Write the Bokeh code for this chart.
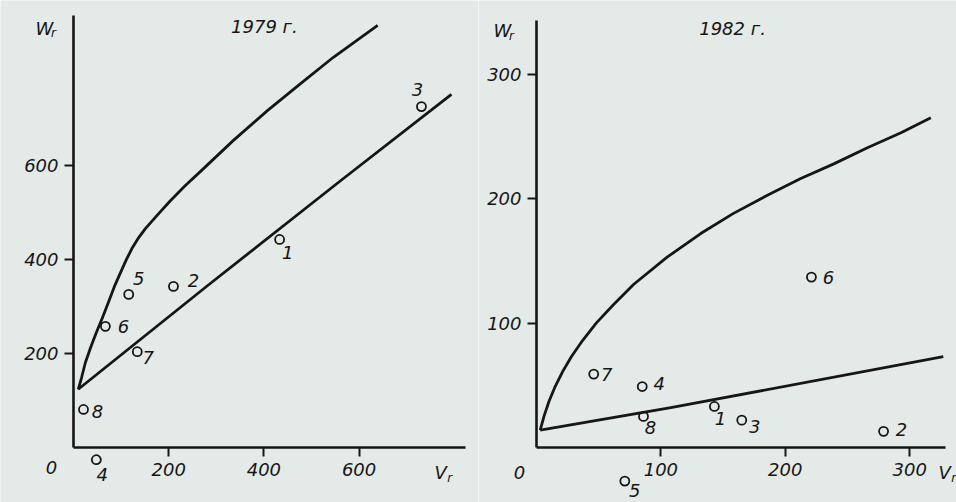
from bokeh.plotting import figure
from bokeh.layouts import row
from bokeh.models import LinearAxis, FixedTicker, Label, ColumnDataSource, Range1d
from bokeh.core.properties import value
from bokeh.embed import file_html
from bokeh.resources import INLINE

# ---------------- data: 1979 ----------------
point_names = ["1", "2", "3", "4", "5", "6", "7", "8"]
v_1979 = [433, 210, 731, 48, 116, 67, 134, 21]
w_1979 = [443, 343, 726, -26, 326, 258, 204, 81]
upper_v_1979 = [10, 17, 25, 36, 48, 61, 74, 86, 99, 111, 124, 137, 151, 164, 177, 204, 235, 267, 336, 408, 477, 546, 639]
upper_w_1979 = [124, 149, 181, 213, 245, 277, 311, 343, 373, 400, 426, 447, 466, 481, 496, 526, 558, 588, 654, 718, 775, 831, 899]
lower_v_1979 = [10, 282, 561, 794]
lower_w_1979 = [124, 345, 568, 752]
ticks_1979 = [200, 400, 600]

# ---------------- data: 1982 ----------------
v_1982 = [143, 279, 165, 85, 71, 221, 46, 86]
w_1982 = [33, 13, 22, 49, -27, 137, 59, 25]
upper_v_1982 = [3, 6, 10, 15, 21, 28, 37, 48, 62, 78, 105, 132, 158, 186, 212, 239, 266, 293, 317]
upper_w_1982 = [14, 25, 37, 49, 61, 73, 86, 100, 115, 131, 153, 172, 188, 203, 216, 228, 241, 253, 265]
lower_v_1982 = [3, 108, 327]
lower_w_1982 = [14, 32, 73]
ticks_1982 = [100, 200, 300]

# ---------------- styling / layout ----------------
BG = "#e4eae7"
INK = "#161616"
FONT = "DejaVu Sans"

# label offsets in screen px (right, down)
dx_1979 = [8, 20, -4, 6, 10, 18, 11, 14]
dy_1979 = [13, -6, -17, 15, -16, 0, 6, 2]
dx_1982 = [6, 18, 13, 17, 10, 17, 13, 7]
dy_1982 = [12, -2, 6, -3, 9, 0, 0, 11]


def panel(width, page_left, origin_x, origin_y, sx, sy, vx, wy, names, dxs, dys,
          up_v, up_w, lo_v, lo_w, ticks, x_bound, y_bound, title, title_xy,
          w_off, r_off, V_off, Vr_off, zero_off):
    height = 502
    page_top = 0
    x0 = -(origin_x - page_left) / sx
    x1 = (page_left + width - origin_x) / sx
    y1 = (origin_y - page_top) / sy
    y0 = -(page_top + height - origin_y) / sy
    p = figure(width=width, height=height, x_range=Range1d(x0, x1), y_range=Range1d(y0, y1),
               x_axis_type=None, y_axis_type=None, toolbar_location=None,
               output_backend="svg", min_border=0)
    p.background_fill_color = BG
    p.border_fill_color = BG
    p.outline_line_color = None

    for side, bound in (("below", x_bound), ("left", y_bound)):
        ax = LinearAxis(fixed_location=0, bounds=(0, bound),
                        ticker=FixedTicker(ticks=ticks))
        ax.axis_line_color = INK
        ax.axis_line_width = 2.6
        ax.major_tick_line_color = INK
        ax.major_tick_line_width = 2
        ax.major_tick_in = 0
        ax.major_tick_out = 9
        ax.minor_tick_line_color = None
        ax.major_label_text_font = FONT
        ax.major_label_text_font_style = "italic"
        ax.major_label_text_font_size = "18px"
        ax.major_label_text_color = INK
        ax.major_label_standoff = 6
        p.add_layout(ax, side)

    p.line(up_v, up_w, line_color=INK, line_width=2.8, line_join="round")
    p.line(lo_v, lo_w, line_color=INK, line_width=2.8, line_join="round")

    src = ColumnDataSource(dict(v=vx, w=wy, name=names, dx=dxs, dy=dys))
    p.scatter("v", "w", source=src, marker="circle", size=9, fill_color=None,
              line_color=INK, line_width=1.8)
    p.text("v", "w", text="name", source=src, x_offset="dx", y_offset="dy",
           text_font=value(FONT), text_font_style="italic", text_font_size="18px",
           text_color=INK, text_align="center", text_baseline="middle")

    def lab(x, y, text, off, size="18px"):
        p.add_layout(Label(x=x, y=y, text=text, x_offset=off[0], y_offset=-off[1],
                           text_font=FONT, text_font_style="italic",
                           text_font_size=size, text_color=INK,
                           text_align="center", text_baseline="middle"))

    lab(title_xy[0], title_xy[1], title, (0, 0))
    lab(0, y_bound, "W", w_off)
    lab(0, y_bound, "r", r_off, "12px")
    lab(x_bound, 0, "V", V_off)
    lab(x_bound, 0, "r", Vr_off, "12px")
    lab(0, 0, "0", zero_off)
    return p


p1 = panel(478, 0, 73, 447, 0.476, 0.4696, v_1979, w_1979, point_names, dx_1979, dy_1979,
           upper_v_1979, upper_w_1979, lower_v_1979, lower_w_1979, ticks_1979,
           824, 920, "1979 г.", (401, 896),
           (-29, 13), (-20, 18), (-25, 25), (-16, 30), (-22, 20))
p2 = panel(478, 478, 536, 447, 1.244, 1.244, v_1982, w_1982, point_names, dx_1982, dy_1982,
           upper_v_1982, upper_w_1982, lower_v_1982, lower_w_1982, ticks_1982,
           329, 343, "1982 г.", (157.6, 336.8),
           (-34, 10), (-25, 15), (-1, 25), (8, 30), (-17, 25))

layout = row(p1, p2, spacing=0)
open("out.html", "w").write(file_html(layout, INLINE))
